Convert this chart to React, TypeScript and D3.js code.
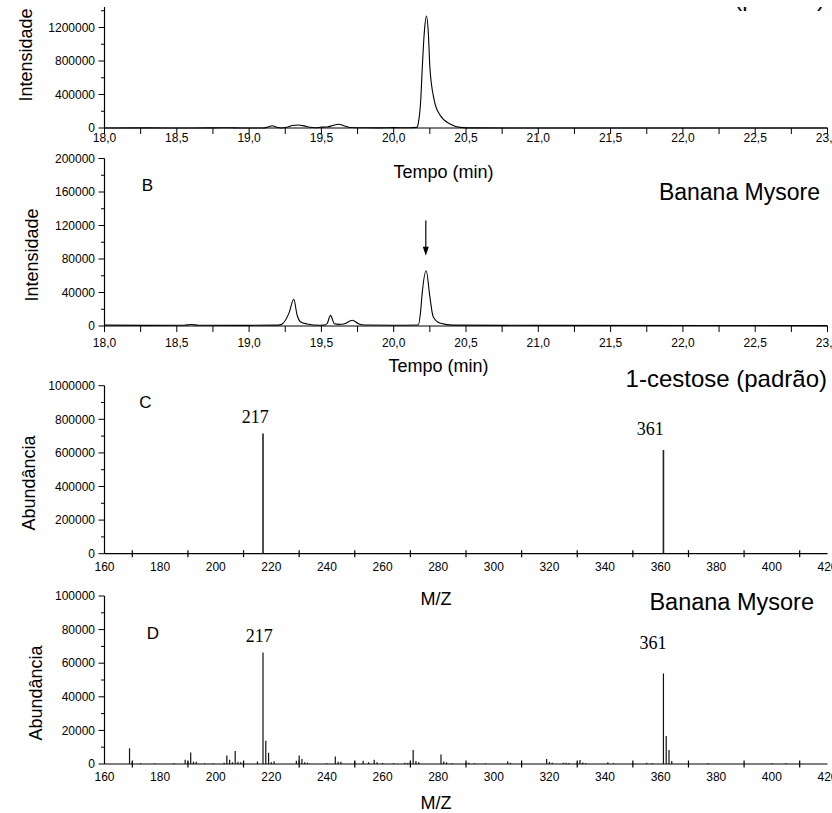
import React from 'react';
import * as d3 from 'd3';

const W = 832;
const H = 813;
const SANS = '"Liberation Sans", Arial, Helvetica, sans-serif';
const SERIF = '"Liberation Serif", "Times New Roman", serif';

// ---------- tick values ----------
const timeLabelTicks = [18, 18.5, 19, 19.5, 20, 20.5, 21, 21.5, 22, 22.5, 23];
const timeMinorTicks = [18, 18.25, 18.5, 18.75, 19, 19.25, 19.5, 19.75, 20, 20.25, 20.5, 20.75, 21, 21.25, 21.5, 21.75, 22, 22.25, 22.5, 22.75, 23];
const mzLabelTicks = [160, 180, 200, 220, 240, 260, 280, 300, 320, 340, 360, 380, 400, 420];
const mzCrossTicks = [170, 190, 210, 230, 250, 270, 290, 310, 330, 350, 370, 390, 410];
const yTicksA = [0, 400000, 800000, 1200000, 1600000, 2000000];
const yMinorA = [200000, 600000, 1000000, 1400000, 1800000];
const yTicksB = [0, 40000, 80000, 120000, 160000, 200000];
const yMinorB = [20000, 60000, 100000, 140000, 180000];
const yTicksC = [0, 200000, 400000, 600000, 800000, 1000000];
const yMinorC = [100000, 300000, 500000, 700000, 900000];
const yTicksD = [0, 20000, 40000, 60000, 80000, 100000];
const yMinorD = [10000, 30000, 50000, 70000, 90000];

// ---------- chromatogram A (1-cestose standard) : [time, intensity] ----------
const chromA: [number, number][] = [
  [18.0, 0], [18.3, 1000], [18.6, 0], [18.85, 3000], [18.95, 0], [19.1, 0],
  [19.13, 12000], [19.16, 27000], [19.19, 10000], [19.22, 0], [19.26, 8000],
  [19.3, 30000], [19.34, 36000], [19.38, 25000], [19.42, 8000], [19.46, 3000],
  [19.5, 10000], [19.54, 12000], [19.58, 30000], [19.62, 44000], [19.66, 25000],
  [19.7, 6000], [19.8, 3000], [19.9, 2000], [20.0, 4000], [20.1, 3000],
  [20.16, 8000], [20.17, 56000], [20.187, 334000], [20.198, 732000],
  [20.212, 1150000], [20.227, 1337000], [20.24, 1120000], [20.25, 732000],
  [20.28, 334000], [20.32, 155000], [20.39, 48000], [20.46, 8000],
  [20.55, 1500], [21.0, 0], [23.0, 0],
];

// ---------- chromatogram B (Banana Mysore) ----------
const chromB: [number, number][] = [
  [18.0, 1000], [18.3, 800], [18.55, 900], [18.6, 1800], [18.65, 900],
  [19.0, 800], [19.2, 1000], [19.229, 2500], [19.275, 15100], [19.309, 31900],
  [19.332, 13100], [19.355, 5100], [19.4, 2400], [19.49, 900], [19.52, 1000],
  [19.54, 3000], [19.563, 12700], [19.59, 2600], [19.62, 2000], [19.655, 2400],
  [19.713, 6800], [19.76, 2400], [19.8, 1200], [20.0, 900], [20.17, 1200],
  [20.187, 19000], [20.197, 39000], [20.225, 66000], [20.25, 35000],
  [20.273, 11100], [20.324, 3200], [20.41, 1000], [21.0, 700], [23.0, 500],
];

// ---------- mass spectrum C (1-cestose standard) : [m/z, abundance] ----------
const specC: [number, number][] = [
  [217, 716000],
  [361, 617000],
];

// ---------- mass spectrum D (Banana Mysore) ----------
const specD: [number, number][] = [
  [169, 9300], [170, 1400], [173, 500], [178, 400], [185, 400],
  [189, 2500], [190, 1500], [191, 6900], [192, 1400], [193, 1400],
  [196, 400], [199, 400], [203, 800], [204, 5000], [205, 2500], [206, 1000],
  [207, 7700], [208, 1400], [209, 1000], [210, 1400], [215, 1500],
  [217, 66400], [218, 13900], [219, 6700], [220, 1000], [221, 1700],
  [229, 2000], [230, 5000], [231, 3000], [232, 1000], [233, 800],
  [240, 500], [243, 4500], [244, 1300], [245, 1300], [250, 1500],
  [253, 2000], [255, 1000], [257, 2500], [258, 1000], [260, 700],
  [264, 500], [268, 800], [269, 600], [270, 1500], [271, 8300], [272, 1800],
  [273, 1000], [281, 5700], [282, 1500], [283, 1000], [285, 500],
  [290, 800], [291, 700], [293, 500], [297, 400], [305, 1600], [306, 700],
  [310, 600], [319, 3000], [320, 1200], [321, 800], [325, 700], [326, 700],
  [327, 600], [330, 1000], [331, 2400], [332, 900], [333, 500],
  [341, 1000], [343, 500], [350, 600], [355, 700], [357, 500],
  [361, 53900], [362, 16600], [363, 8300], [364, 1800], [370, 500],
  [377, 400], [400, 400], [405, 500],
];

// ---------- arrow annotation in B ----------
const arrowTime = 20.222;
const arrowFrom = 126000;
const arrowTo = 84000;

// ---------- scales ----------
const xT = d3.scaleLinear().domain([18, 23]).range([104.5, 827.5]);
const xM = d3.scaleLinear().domain([160, 420]).range([104.5, 827.5]);
const yA = d3.scaleLinear().domain([0, 2000000]).range([128, -39.5]);
const yB = d3.scaleLinear().domain([0, 200000]).range([326, 158.5]);
const yC = d3.scaleLinear().domain([0, 1000000]).range([553.7, 385.7]);
const yD = d3.scaleLinear().domain([0, 100000]).range([764, 596]);

const fmtInt = d3.format('d');
const fmtTime = (v: number) => d3.format('.1f')(v).replace('.', ',');

function YAxis({ scale, majors, minors }: { scale: d3.ScaleLinear<number, number>; majors: number[]; minors: number[] }) {
  const x = 104.5;
  const r = scale.range();
  return (
    <g>
      <line x1={x} x2={x} y1={r[0]} y2={r[1]} stroke="#000" strokeWidth={1.2} />
      {majors.map((v) => (
        <g key={'M' + v}>
          <line x1={x - 6} x2={x} y1={scale(v)} y2={scale(v)} stroke="#000" strokeWidth={1} />
          <text x={x - 9.5} y={scale(v)} dy="0.35em" textAnchor="end" fontSize={12} fontFamily={SANS} fill="#000">
            {fmtInt(v)}
          </text>
        </g>
      ))}
      {minors.map((v) => (
        <line key={'m' + v} x1={x - 3.5} x2={x} y1={scale(v)} y2={scale(v)} stroke="#000" strokeWidth={1} />
      ))}
    </g>
  );
}

function TimeAxis({ y0, labelY }: { y0: number; labelY: number }) {
  return (
    <g>
      <line x1={xT(18)} x2={xT(23)} y1={y0} y2={y0} stroke="#000" strokeWidth={1.2} />
      {timeMinorTicks.map((v) => (
        <line key={'t' + v} x1={xT(v)} x2={xT(v)} y1={y0} y2={y0 + 6} stroke="#000" strokeWidth={1} />
      ))}
      {timeLabelTicks.map((v) => (
        <text key={'l' + v} x={xT(v)} y={labelY} textAnchor="middle" fontSize={12} fontFamily={SANS} fill="#000">
          {fmtTime(v)}
        </text>
      ))}
    </g>
  );
}

function MzAxis({ y0 }: { y0: number }) {
  return (
    <g>
      <line x1={xM(160)} x2={xM(420)} y1={y0} y2={y0} stroke="#000" strokeWidth={1.2} />
      {mzCrossTicks.map((v) => (
        <line key={'c' + v} x1={xM(v)} x2={xM(v)} y1={y0 - 3.5} y2={y0 + 3.5} stroke="#000" strokeWidth={1.2} />
      ))}
      {mzLabelTicks.map((v) => (
        <text key={'l' + v} x={xM(v)} y={y0 + 17.3} textAnchor="middle" fontSize={12} fontFamily={SANS} fill="#000">
          {v}
        </text>
      ))}
    </g>
  );
}

function YTitle({ x, y, text }: { x: number; y: number; text: string }) {
  return (
    <text transform={`translate(${x},${y}) rotate(-90)`} textAnchor="middle" fontSize={18} fontFamily={SANS} fill="#000">
      {text}
    </text>
  );
}

export default function App() {
  const lineA = d3
    .line<[number, number]>()
    .x((d) => xT(d[0]))
    .y((d) => yA(d[1]))
    .curve(d3.curveMonotoneX);
  const lineB = d3
    .line<[number, number]>()
    .x((d) => xT(d[0]))
    .y((d) => yB(d[1]))
    .curve(d3.curveMonotoneX);

  const ax = xT(arrowTime);
  const ay0 = yB(arrowFrom);
  const ay1 = yB(arrowTo);

  return (
    <svg
      width={W}
      height={H}
      viewBox={`0 0 ${W} ${H}`}
      style={{ position: 'absolute', left: 0, top: 0, background: '#fff', overflow: 'hidden' }}
    >
      <rect x={0} y={0} width={W} height={H} fill="#fff" />

      {/* ---------- Panel A ---------- */}
      <text x={825} y={5.5} textAnchor="end" fontSize={24} fontFamily={SANS} fill="#000">
        1-cestose (padrão)
      </text>
      <YAxis scale={yA} majors={yTicksA} minors={yMinorA} />
      <TimeAxis y0={128} labelY={141.5} />
      <path d={lineA(chromA) || ''} fill="none" stroke="#000" strokeWidth={1.1} />
      <YTitle x={31.5} y={55} text="Intensidade" />
      <text x={443.5} y={178} textAnchor="middle" fontSize={18} fontFamily={SANS} fill="#000">
        Tempo (min)
      </text>

      {/* ---------- Panel B ---------- */}
      <YAxis scale={yB} majors={yTicksB} minors={yMinorB} />
      <TimeAxis y0={326} labelY={346.5} />
      <path d={lineB(chromB) || ''} fill="none" stroke="#000" strokeWidth={1.1} />
      <line x1={ax} x2={ax} y1={ay0} y2={ay1 - 6} stroke="#000" strokeWidth={1.2} />
      <path d={`M${ax - 3},${ay1 - 9} L${ax + 3},${ay1 - 9} L${ax},${ay1} Z`} fill="#000" />
      <YTitle x={38} y={255} text="Intensidade" />
      <text x={438.5} y={372} textAnchor="middle" fontSize={18} fontFamily={SANS} fill="#000">
        Tempo (min)
      </text>
      <text x={141.7} y={190.7} fontSize={17} fontFamily={SANS} fill="#000">
        B
      </text>
      <text x={820} y={200} textAnchor="end" fontSize={23} fontFamily={SANS} fill="#000">
        Banana Mysore
      </text>

      {/* ---------- Panel C ---------- */}
      <YAxis scale={yC} majors={yTicksC} minors={yMinorC} />
      <MzAxis y0={553.7} />
      {specC.map(([mz, v]) => (
        <line key={'C' + mz} x1={xM(mz)} x2={xM(mz)} y1={yC(0)} y2={yC(v)} stroke="#222" strokeWidth={1.6} />
      ))}
      <YTitle x={34.5} y={483} text="Abundância" />
      <text x={436} y={604.5} textAnchor="middle" fontSize={18} fontFamily={SANS} fill="#000">
        M/Z
      </text>
      <text x={139.3} y={408.3} fontSize={17} fontFamily={SANS} fill="#000">
        C
      </text>
      <text x={827} y={387} textAnchor="end" fontSize={24} fontFamily={SANS} fill="#000">
        1-cestose (padrão)
      </text>
      <text x={255.3} y={422.7} textAnchor="middle" fontSize={18} fontFamily={SERIF} fill="#000">
        217
      </text>
      <text x={650.3} y={435} textAnchor="middle" fontSize={18} fontFamily={SERIF} fill="#000">
        361
      </text>

      {/* ---------- Panel D ---------- */}
      <YAxis scale={yD} majors={yTicksD} minors={yMinorD} />
      <MzAxis y0={764} />
      {specD.map(([mz, v]) => (
        <line key={'D' + mz} x1={xM(mz)} x2={xM(mz)} y1={yD(0)} y2={yD(v)} stroke="#111" strokeWidth={1.2} />
      ))}
      <YTitle x={41.5} y={693} text="Abundância" />
      <text x={436} y={809} textAnchor="middle" fontSize={18} fontFamily={SANS} fill="#000">
        M/Z
      </text>
      <text x={146.7} y={639.3} fontSize={17} fontFamily={SANS} fill="#000">
        D
      </text>
      <text x={814} y={610} textAnchor="end" fontSize={23.5} fontFamily={SANS} fill="#000">
        Banana Mysore
      </text>
      <text x={259.3} y={641.7} textAnchor="middle" fontSize={18} fontFamily={SERIF} fill="#000">
        217
      </text>
      <text x={653} y={649.3} textAnchor="middle" fontSize={18} fontFamily={SERIF} fill="#000">
        361
      </text>

      {/* top edge of the figure is cropped in the reference */}
      <rect x={0} y={0} width={W} height={7} fill="#fff" />
    </svg>
  );
}
